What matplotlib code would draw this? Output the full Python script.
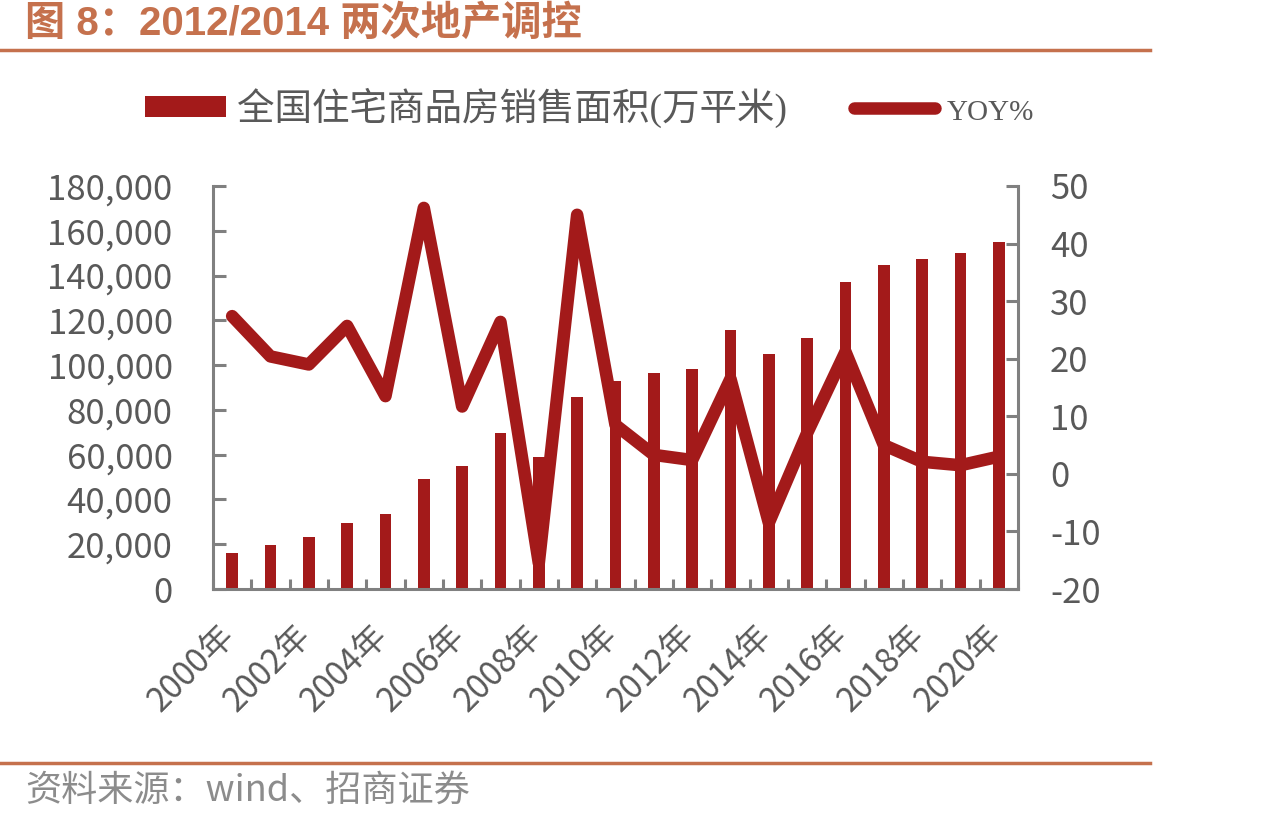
import numpy as np
import matplotlib
matplotlib.use("Agg")
import matplotlib.pyplot as plt
import matplotlib.transforms as mtransforms
from matplotlib.lines import Line2D
from matplotlib.ticker import StrMethodFormatter

# datos
years = list(range(2000, 2021))
area = [16000, 19700, 23300, 29600, 33600, 49200, 55000, 69800, 59100, 85900, 93000,
        96400, 98200, 115500, 104900, 112200, 137200, 144700, 147500, 150000, 154800]
yoy = [27.4, 20.4, 19.0, 25.7, 13.5, 46.2, 11.7, 26.4, -15.5, 45.0, 8.5,
       3.3, 2.4, 16.5, -8.5, 7.1, 21.2, 5.0, 2.1, 1.5, 3.0]
label_bar = "全国住宅商品房销售面积(万平米)"
label_line = "YOY%"

red = "#A31A1A"
grey = "#808080"
txt = "#595959"
brown = "#C5714D"
cjk = ["Noto Sans CJK SC", "DejaVu Sans"]

plt.rcParams['font.family'] = cjk
plt.rcParams['axes.unicode_minus'] = False

fig = plt.figure(figsize=(12.86, 8.23), dpi=100)
ax = fig.add_axes([0.1656, 0.2843, 0.626, 0.4897])
ax2 = ax.twinx()

x = np.arange(len(years))
bars = ax.bar(x, area, width=0.31, color=red, label=label_bar)
line, = ax2.plot(x, yoy, color=red, lw=9, solid_joinstyle='round',
                 solid_capstyle='round', label=label_line)

ax.set_xlim(-0.5, len(years) - 0.5)
ax.set_ylim(0, 180000)
ax.set_yticks(np.arange(0, 180001, 20000))
ax.yaxis.set_major_formatter(StrMethodFormatter('{x:,.0f}'))
ax2.set_ylim(-20, 50)
ax2.set_yticks(np.arange(-20, 51, 10))

for s in ['top', 'right']:
    ax.spines[s].set_visible(False)
for s in ['top', 'left', 'bottom']:
    ax2.spines[s].set_visible(False)
for a, s in [(ax, 'left'), (ax, 'bottom'), (ax2, 'right')]:
    a.spines[s].set_color(grey)
    a.spines[s].set_linewidth(2.2)

ax.tick_params(axis='y', direction='in', length=9, width=2.2, color=grey,
               pad=29, labelsize=25, labelcolor=txt)
ax2.tick_params(axis='y', direction='in', length=9, width=2.2, color=grey,
                pad=23, labelsize=25, labelcolor=txt)

ax.set_xticks(x[::2])
ax.set_xticklabels([f"{y}年" for y in years[::2]], rotation=45, ha='right',
                   va='center', rotation_mode='anchor')
ax.set_xticks(np.arange(-0.5, len(years), 1), minor=True)
ax.tick_params(axis='x', which='major', length=0, pad=30, labelsize=24,
               labelcolor=txt)
ax.tick_params(axis='x', which='minor', direction='in', length=7, width=2.2,
               color=grey)
offset = mtransforms.ScaledTranslation(-2 / 72, 0, fig.dpi_scale_trans)
for lab in ax.get_xticklabels():
    lab.set_transform(lab.get_transform() + offset)

leg = ax.legend(handles=[bars, line], loc='center left',
                bbox_to_anchor=(0.1128, 0.869), bbox_transform=fig.transFigure,
                ncol=2, frameon=False, handlelength=2.15, handleheight=0.45,
                handletextpad=0.3, columnspacing=1.8, borderpad=0,
                borderaxespad=0,
                prop={'family': ["Liberation Serif", "Noto Sans CJK SC"], 'size': 27})
for t in leg.get_texts():
    t.set_color(txt)
leg.get_texts()[1].set_fontsize(21)

fig.text(0.0194, 1 - 24 / 823, "图 8：2012/2014 两次地产调控", fontsize=29,
         fontweight='bold', color=brown, va='center',
         family=["Liberation Sans", "Noto Sans CJK SC"])
fig.add_artist(Line2D([0, 0.894], [0.9392, 0.9392], color=brown, lw=2.5))
fig.add_artist(Line2D([0, 0.894], [0.0729, 0.0729], color=brown, lw=2.5))
fig.text(0.0194, 1 - 791 / 823, "资料来源：wind、招商证券", fontsize=26,
         color="#8C8C8C", va='center')

fig.savefig("out.png", dpi=100)
